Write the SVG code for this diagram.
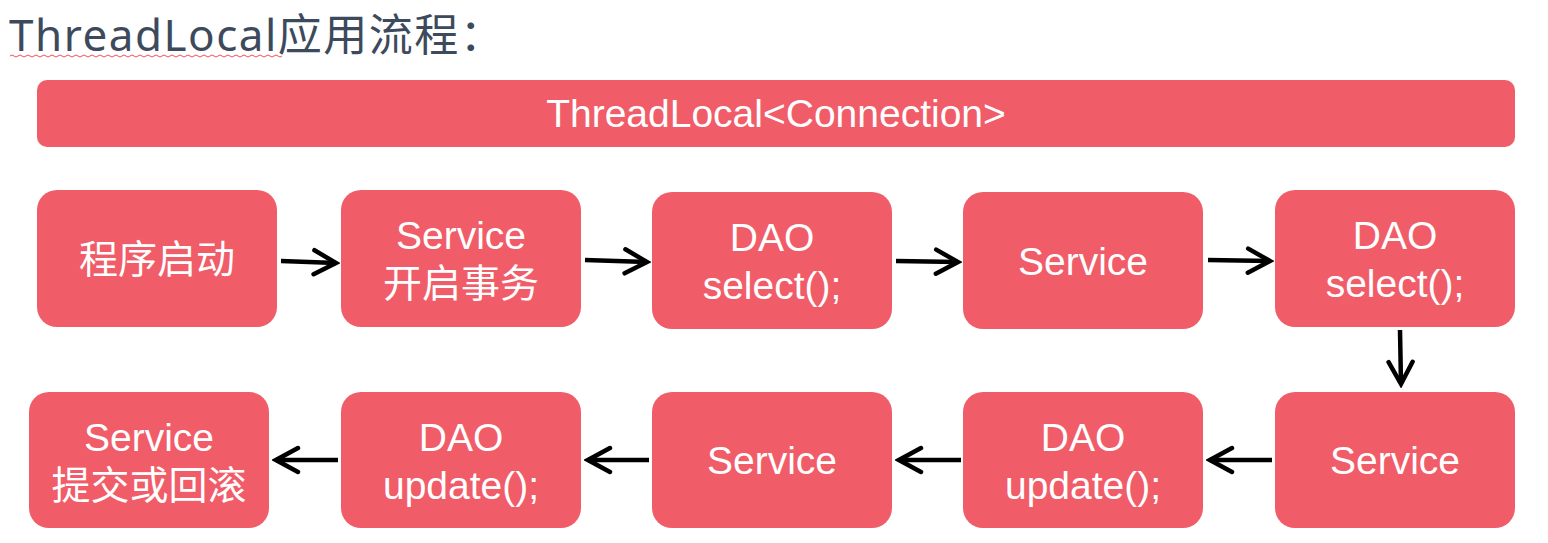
<svg xmlns="http://www.w3.org/2000/svg" width="1548" height="543" viewBox="0 0 1548 543">
<style>
.box{fill:#F15C69;}
.t{fill:#fff;font-family:"Liberation Sans","Noto Sans CJK SC",sans-serif;font-size:39px;text-anchor:middle;}
.title{fill:#3D4A5C;font-family:"Noto Sans","Noto Sans CJK SC",sans-serif;font-size:44px;letter-spacing:1.5px;}
.arr{stroke:#000;stroke-width:4.5;fill:none;marker-end:url(#ah);}
</style>
<defs>
<marker id="ah" viewBox="0 0 30 30" refX="26" refY="15" markerWidth="30" markerHeight="30" markerUnits="userSpaceOnUse" orient="auto">
<polyline points="4,3 26,15 4,27" fill="none" stroke="#000" stroke-width="4.5" stroke-linecap="round" stroke-linejoin="miter"/>
</marker>
</defs>
<rect width="1548" height="543" fill="#fff"/>
<g id="title">
<text class="title" x="9" y="51">ThreadLocal应用流程：</text>
<path d="M10,56 q2,-2 4,0 t4,0 t4,0 t4,0 t4,0 t4,0 t4,0 t4,0 t4,0 t4,0 t4,0 t4,0 t4,0 t4,0 t4,0 t4,0 t4,0 t4,0 t4,0 t4,0 t4,0 t4,0 t4,0 t4,0 t4,0 t4,0 t4,0 t4,0 t4,0 t4,0 t4,0 t4,0 t4,0 t4,0 t4,0 t4,0 t4,0 t4,0 t4,0 t4,0 t4,0 t4,0 t4,0 t4,0 t4,0 t4,0 t4,0 t4,0 t4,0 t4,0 t4,0 t4,0 t4,0 t4,0 t4,0 t4,0 t4,0 t4,0 t4,0 t4,0 t4,0 t4,0 t4,0 t4,0 t4,0 t4,0 t4,0 t4,0" fill="none" stroke="#F05060" stroke-width="1"/>
</g>
<g id="threadlocal">
<rect class="box" x="37" y="80" width="1478" height="67" rx="10"/>
<text class="t" x="776" y="127">ThreadLocal&lt;Connection&gt;</text>
</g>
<g id="n1"><rect class="box" x="37" y="190" width="240" height="137" rx="20"/><text class="t" x="157" y="273">程序启动</text></g>
<g id="n2"><rect class="box" x="341" y="190" width="240" height="137" rx="20"/><text class="t" x="461" y="249">Service</text><text class="t" x="461" y="297">开启事务</text></g>
<g id="n3"><rect class="box" x="652" y="192" width="240" height="137" rx="20"/><text class="t" x="772" y="251">DAO</text><text class="t" x="772" y="299">select();</text></g>
<g id="n4"><rect class="box" x="963" y="192" width="240" height="137" rx="20"/><text class="t" x="1083" y="275">Service</text></g>
<g id="n5"><rect class="box" x="1275" y="190" width="240" height="137" rx="20"/><text class="t" x="1395" y="249">DAO</text><text class="t" x="1395" y="297">select();</text></g>
<g id="n6"><rect class="box" x="1275" y="392" width="240" height="136" rx="20"/><text class="t" x="1395" y="474">Service</text></g>
<g id="n7"><rect class="box" x="963" y="392" width="240" height="136" rx="20"/><text class="t" x="1083" y="451">DAO</text><text class="t" x="1083" y="499">update();</text></g>
<g id="n8"><rect class="box" x="652" y="392" width="240" height="136" rx="20"/><text class="t" x="772" y="474">Service</text></g>
<g id="n9"><rect class="box" x="341" y="392" width="240" height="136" rx="20"/><text class="t" x="461" y="451">DAO</text><text class="t" x="461" y="499">update();</text></g>
<g id="n10"><rect class="box" x="29" y="392" width="240" height="136" rx="20"/><text class="t" x="149" y="451">Service</text><text class="t" x="149" y="499">提交或回滚</text></g>
<g id="connectors">
<line class="arr" x1="281" y1="261" x2="336" y2="263"/>
<line class="arr" x1="585" y1="260" x2="647" y2="262"/>
<line class="arr" x1="896" y1="261" x2="958" y2="262"/>
<line class="arr" x1="1208" y1="260" x2="1270" y2="261"/>
<line class="arr" x1="1400" y1="330" x2="1401" y2="384"/>
<line class="arr" x1="1272" y1="460" x2="1210" y2="460"/>
<line class="arr" x1="961" y1="460" x2="899" y2="460"/>
<line class="arr" x1="649" y1="460" x2="588" y2="460"/>
<line class="arr" x1="338" y1="460" x2="276" y2="460"/>
</g>
</svg>
